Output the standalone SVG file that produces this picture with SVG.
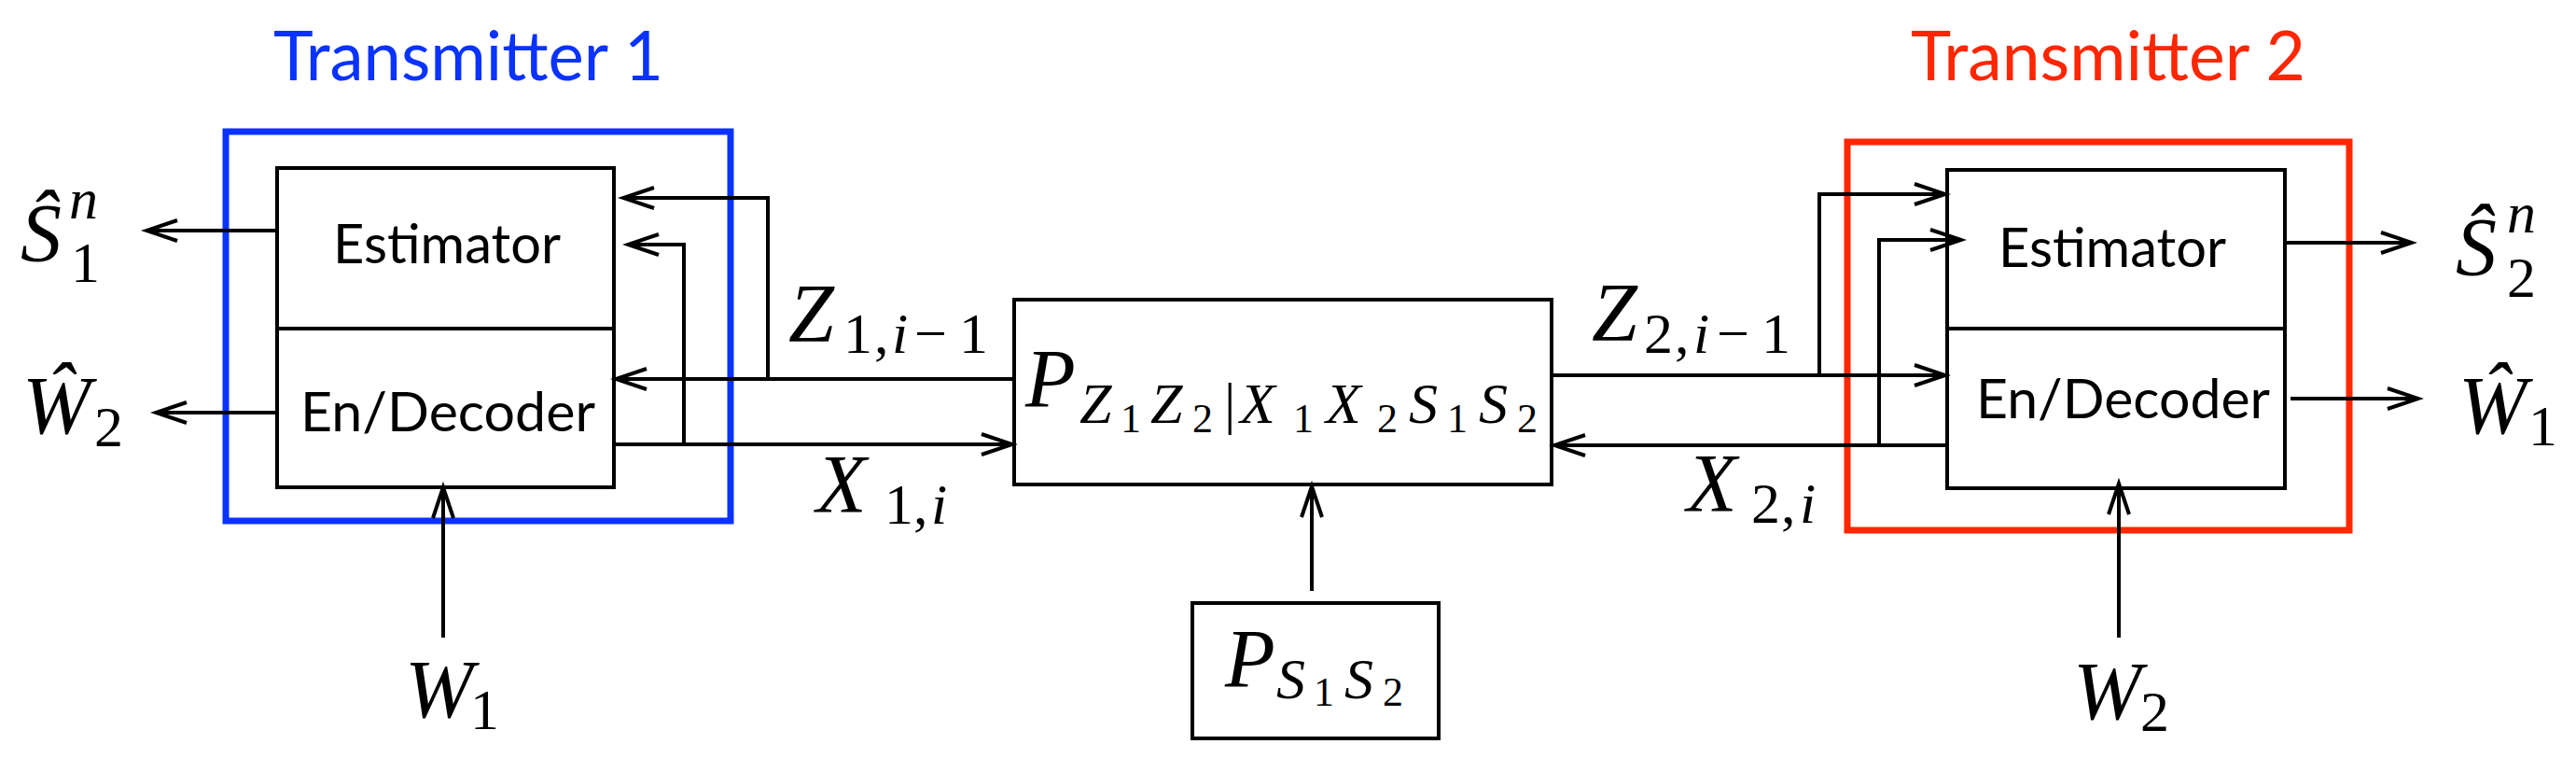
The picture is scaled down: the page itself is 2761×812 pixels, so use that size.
<svg xmlns="http://www.w3.org/2000/svg" width="2761" height="812" viewBox="0 0 2761 812">
<style>
.box{fill:none;stroke:#000;stroke-width:4}
.frame{fill:none;stroke-width:7}
.ln{fill:none;stroke:#000;stroke-width:4}
.arr{marker-end:url(#ah)}
.sans{font-family:Lato,"Open Sans","DejaVu Sans",sans-serif;fill:#000}
.m{font-family:"Liberation Serif","DejaVu Serif",serif;font-style:italic;font-size:88px;fill:#000}
.s{font-size:62px}
.ss{font-size:44px}
.up{font-style:normal}
</style>
<defs>
<marker id="ah" markerUnits="userSpaceOnUse" markerWidth="40" markerHeight="28" refX="34" refY="12" orient="auto" viewBox="0 0 40 24">
<path d="M1,1 L34,12 L1,23" fill="none" stroke="#000" stroke-width="4"/>
</marker>
</defs>
<rect width="2761" height="812" fill="#fff"/>

<g id="transmitter1">
<rect class="frame" x="242" y="141" width="541" height="417" stroke="#0a33ff"/>
<text class="sans" x="293" y="86" font-size="74" textLength="418" lengthAdjust="spacingAndGlyphs" style="fill:#0a33ff">Transmitter 1</text>
</g>
<g id="t1-estimator">
<rect class="box" x="297" y="180" width="361" height="172"/>
<text class="sans" x="357" y="282" font-size="58" textLength="244" lengthAdjust="spacingAndGlyphs">Estimator</text>
</g>
<g id="t1-endecoder">
<rect class="box" x="297" y="352" width="361" height="170"/>
<text class="sans" x="322" y="462" font-size="58" textLength="316" lengthAdjust="spacingAndGlyphs">En/Decoder</text>
</g>

<g id="transmitter2">
<rect class="frame" x="1980" y="152" width="538" height="416" stroke="#ff2600"/>
<text class="sans" x="2048" y="86" font-size="74" textLength="423" lengthAdjust="spacingAndGlyphs" style="fill:#ff2600">Transmitter 2</text>
</g>
<g id="t2-estimator">
<rect class="box" x="2087" y="182" width="362" height="170"/>
<text class="sans" x="2142" y="286" font-size="58" textLength="244" lengthAdjust="spacingAndGlyphs">Estimator</text>
</g>
<g id="t2-endecoder">
<rect class="box" x="2087" y="352" width="362" height="171"/>
<text class="sans" x="2118" y="448" font-size="58" textLength="315" lengthAdjust="spacingAndGlyphs">En/Decoder</text>
</g>

<g id="channel">
<rect class="box" x="1087" y="321" width="576" height="198"/>
<text class="m"><tspan x="1099" y="435">P</tspan><tspan class="s" x="1157" y="453">Z</tspan><tspan class="ss up" x="1201" y="463">1</tspan><tspan class="s" x="1233" y="453">Z</tspan><tspan class="ss up" x="1278" y="463">2</tspan><tspan class="s up" x="1312" y="453">|</tspan><tspan class="s" x="1329" y="453">X</tspan><tspan class="ss up" x="1386" y="463">1</tspan><tspan class="s" x="1421" y="453">X</tspan><tspan class="ss up" x="1476" y="463">2</tspan><tspan class="s" x="1510" y="453">S</tspan><tspan class="ss up" x="1551" y="463">1</tspan><tspan class="s" x="1585" y="453">S</tspan><tspan class="ss up" x="1626" y="463">2</tspan></text>
</g>

<g id="state">
<rect class="box" x="1278" y="646" width="264" height="145"/>
<text class="m"><tspan x="1313" y="735">P</tspan><tspan class="s" x="1368" y="748">S</tspan><tspan class="ss up" x="1408" y="756">1</tspan><tspan class="s" x="1441" y="748">S</tspan><tspan class="ss up" x="1482" y="756">2</tspan></text>
</g>

<g id="connectors">
<line class="ln arr" x1="297" y1="247" x2="157" y2="247"/>
<line class="ln arr" x1="297" y1="442" x2="167" y2="442"/>
<line class="ln arr" x1="475" y1="683" x2="475" y2="522"/>
<line class="ln arr" x1="1087" y1="406" x2="660" y2="406"/>
<polyline class="ln arr" points="823,406 823,212 668,212"/>
<line class="ln arr" x1="658" y1="476" x2="1085" y2="476"/>
<polyline class="ln arr" points="733,476 733,262 673,262"/>

<line class="ln arr" x1="1663" y1="402" x2="2085" y2="402"/>
<polyline class="ln arr" points="1950,402 1950,208 2085,208"/>
<line class="ln arr" x1="2087" y1="477" x2="1666" y2="477"/>
<polyline class="ln arr" points="2014,477 2014,257 2102,257"/>
<line class="ln arr" x1="2449" y1="260" x2="2585" y2="260"/>
<line class="ln arr" x1="2455" y1="427" x2="2592" y2="427"/>
<line class="ln arr" x1="2271" y1="683" x2="2271" y2="518"/>

<line class="ln arr" x1="1406" y1="633" x2="1406" y2="521"/>
</g>

<g id="labels">
<text class="m"><tspan x="22" y="279">Ŝ</tspan><tspan class="s" x="74" y="234">n</tspan><tspan class="s up" x="76" y="302">1</tspan></text>
<text class="m"><tspan x="24" y="464">Ŵ</tspan><tspan class="s up" x="101" y="478">2</tspan></text>
<text class="m"><tspan x="434" y="768">W</tspan><tspan class="s up" x="504" y="781">1</tspan></text>
<text class="m"><tspan x="845" y="365">Z</tspan><tspan class="s up" x="904" y="378">1</tspan><tspan class="s up" x="937" y="378">,</tspan><tspan class="s" x="956" y="378">i</tspan><tspan class="s up" x="980" y="378">−</tspan><tspan class="s up" x="1028" y="378">1</tspan></text>
<text class="m"><tspan x="875" y="548">X</tspan><tspan class="s up" x="948" y="561">1</tspan><tspan class="s up" x="979" y="561">,</tspan><tspan class="s" x="998" y="561">i</tspan></text>
<text class="m"><tspan x="1706" y="364">Z</tspan><tspan class="s up" x="1762" y="378">2</tspan><tspan class="s up" x="1795" y="378">,</tspan><tspan class="s" x="1815" y="378">i</tspan><tspan class="s up" x="1840" y="378">−</tspan><tspan class="s up" x="1888" y="378">1</tspan></text>
<text class="m"><tspan x="1808" y="547">X</tspan><tspan class="s up" x="1877" y="560">2</tspan><tspan class="s up" x="1909" y="560">,</tspan><tspan class="s" x="1929" y="560">i</tspan></text>
<text class="m"><tspan x="2632" y="294">Ŝ</tspan><tspan class="s" x="2687" y="249">n</tspan><tspan class="s up" x="2687" y="318">2</tspan></text>
<text class="m"><tspan x="2635" y="464">Ŵ</tspan><tspan class="s up" x="2710" y="477">1</tspan></text>
<text class="m"><tspan x="2222" y="770">W</tspan><tspan class="s up" x="2294" y="783">2</tspan></text>
</g>
</svg>
